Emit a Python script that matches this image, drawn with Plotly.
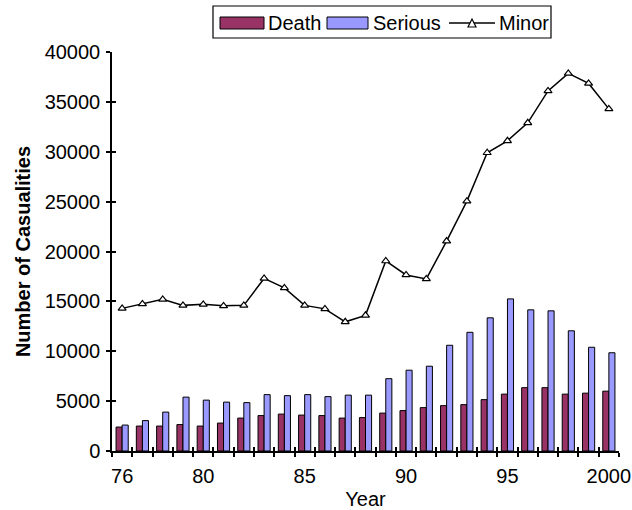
import plotly.graph_objects as go

# Casualties per year, 1976-2000
years = list(range(1976, 2001))
death = [2400, 2500, 2500, 2650, 2500, 2800, 3300, 3550, 3700, 3600, 3550, 3300, 3350,
         3800, 4050, 4350, 4550, 4650, 5150, 5700, 6350, 6350, 5700, 5800, 6000]
serious = [2600, 3050, 3900, 5400, 5100, 4900, 4850, 5650, 5550, 5650, 5450, 5600, 5600,
           7250, 8100, 8500, 10600, 11900, 13350, 15250, 14150, 14050, 12050, 10400, 9850]
minor = [14300, 14750, 15200, 14600, 14700, 14550, 14600, 17300, 16350, 14600, 14250, 12950, 13600,
         19050, 17650, 17250, 21050, 25050, 29900, 31100, 32900, 36100, 37850, 36850, 34300]

label_years = [1976, 1980, 1985, 1990, 1995, 2000]
label_text = ["76", "80", "85", "90", "95", "2000"]
y_ticks = list(range(0, 40001, 5000))

DEATH_COLOR = "#993366"
SERIOUS_COLOR = "#9999FF"
FONT = "Liberation Sans, Arial, sans-serif"

W, H = 632, 510
ML, MR, MT, MB = 112, 13, 52, 59
PW, PH = W - ML - MR, H - MT - MB
XR = [1975.5, 2000.5]
YR = [0, 40000]


def fx(p):
    return (p - ML) / PW


def fy(p):
    return (H - MB - p) / PH


fig = go.Figure()
fig.add_trace(go.Bar(x=years, y=death, name="Death", marker=dict(color=DEATH_COLOR,
                     line=dict(color="black", width=1)), showlegend=False))
fig.add_trace(go.Bar(x=years, y=serious, name="Serious", marker=dict(color=SERIOUS_COLOR,
                     line=dict(color="black", width=1)), showlegend=False))
fig.add_trace(go.Scatter(x=years, y=minor, name="Minor", mode="lines+markers",
                         line=dict(color="black", width=1.5),
                         marker=dict(symbol="triangle-up", size=7, color="white",
                                     line=dict(color="black", width=1.2)),
                         xaxis="x2", yaxis="y2", showlegend=False))

axis_font = dict(family=FONT, size=20, color="black")

fig.update_layout(
    width=W, height=H,
    margin=dict(l=ML, r=MR, t=MT, b=MB),
    paper_bgcolor="white", plot_bgcolor="white",
    barmode="group", bargap=0.4, bargroupgap=0,
    font=dict(family=FONT, color="black"),
    xaxis=dict(range=XR, tickmode="array", tickvals=label_years, ticktext=label_text,
               ticks="", tickfont=axis_font, showline=True, linecolor="black", linewidth=1.5,
               showgrid=False, zeroline=False, ticklabelstandoff=6, automargin=False,
               minor=dict(tickmode="linear", tick0=1975.5, dtick=1, ticks="outside",
                          ticklen=4, tickwidth=1.5, tickcolor="black", showgrid=False),
               title=dict(text="Year", font=axis_font, standoff=8)),
    yaxis=dict(range=YR, tickmode="array", tickvals=y_ticks, tickformat="d",
               ticks="outside", ticklen=4, tickwidth=1.5, tickcolor="black",
               tickfont=axis_font, showline=True, linecolor="black", linewidth=1.5,
               showgrid=False, zeroline=False, ticklabelstandoff=2, automargin=False,
               title=dict(text="<b>Number of Casualities</b>", font=axis_font, standoff=9)),
    xaxis2=dict(range=XR, overlaying="x", anchor="y2", tickmode="linear", tick0=1975.5, dtick=1,
                ticks="inside", ticklen=4, tickwidth=1.5, tickcolor="black", automargin=False,
                showticklabels=False, showline=False, showgrid=False, zeroline=False),
    yaxis2=dict(range=YR, overlaying="y", anchor="x2", tickmode="array", tickvals=y_ticks,
                ticks="inside", ticklen=4, tickwidth=1.5, tickcolor="black", automargin=False,
                showticklabels=False, showline=False, showgrid=False, zeroline=False),
)

# Legend drawn as a framed row above the plot
shapes = [
    dict(type="rect", xref="paper", yref="paper", x0=fx(213), x1=fx(551), y0=fy(6), y1=fy(38),
         line=dict(color="black", width=1.2), fillcolor="white"),
    dict(type="rect", xref="paper", yref="paper", x0=fx(220), x1=fx(264), y0=fy(17), y1=fy(29),
         line=dict(color="black", width=1), fillcolor=DEATH_COLOR),
    dict(type="rect", xref="paper", yref="paper", x0=fx(327), x1=fx(368), y0=fy(17), y1=fy(29),
         line=dict(color="black", width=1), fillcolor=SERIOUS_COLOR),
    dict(type="line", xref="paper", yref="paper", x0=fx(449), x1=fx(495), y0=fy(23), y1=fy(23),
         line=dict(color="black", width=1.5)),
    dict(type="path", xref="paper", yref="paper",
         path=f"M{fx(468)},{fy(27)} L{fx(476)},{fy(27)} L{fx(472)},{fy(19)} Z",
         line=dict(color="black", width=1.2), fillcolor="white"),
]
annotations = [
    dict(text=t, xref="paper", yref="paper", x=fx(px), y=fy(23), xanchor="left", yanchor="middle",
         showarrow=False, font=dict(family=FONT, size=20, color="black"))
    for t, px in [("Death", 266), ("Serious", 371), ("Minor", 497)]
]
fig.update_layout(shapes=shapes, annotations=annotations)

fig.write_html("out.html")
